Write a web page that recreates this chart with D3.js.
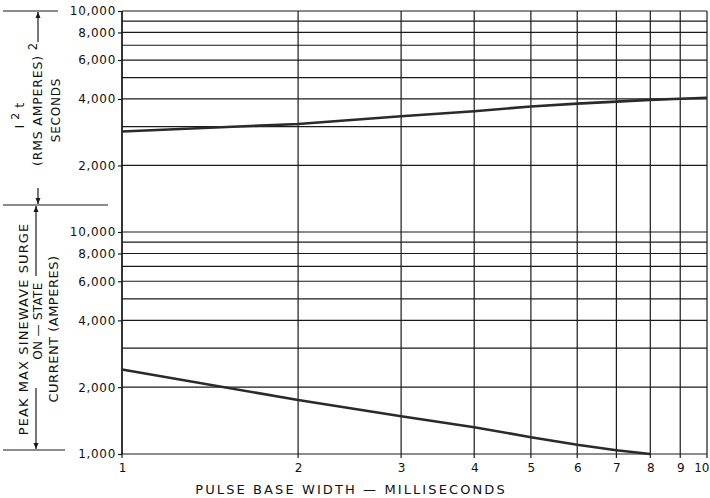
<!DOCTYPE html>
<html><head><meta charset="utf-8">
<script src="https://cdn.jsdelivr.net/npm/d3@7/dist/d3.min.js"></script>
<style>
html,body{margin:0;padding:0;background:#fff;}
svg{display:block;}
text{font-family:"DejaVu Sans",sans-serif;fill:#111;}
</style></head>
<body>
<svg id="c" width="710" height="498"></svg>
<script>
// ---- data ----
const xTicks = [1,2,3,4,5,6,7,8,9,10];
const xTickLabels = ["1","2","3","4","5","6","7","8","9","10"];
const topGrid = [2000,3000,4000,5000,6000,7000,8000,9000,10000];
const topLabels = [2000,4000,6000,8000,10000];
const botGrid = [1000,2000,3000,4000,5000,6000,7000,8000,9000,10000];
const botLabels = [1000,2000,4000,6000,8000,10000];
const i2tWidth = [1,2,3,4,5,6,7,8,9,10];
const i2tValues = [2850,3080,3340,3520,3700,3810,3890,3960,4010,4050];
const surgeWidth = [1,2,3,4,5,6,7,8];
const surgeValues = [2400,1750,1480,1320,1190,1100,1040,1000];
const xTitle = "PULSE BASE WIDTH \u2014  MILLISECONDS";

// ---- layout ----
const L = 122, R = 707, T = 11, MID = 232, B = 454;
const svg = d3.select("#c");
const x = d3.scaleLog().domain([1,10]).range([L,R]);
const yTop = d3.scaleLog().domain([1000,10000]).range([MID,T]);
const yBot = d3.scaleLog().domain([1000,10000]).range([B,MID]);
const fmt = d3.format(",");

const g = svg.append("g");
// vertical grid
g.selectAll("line.vg").data(xTicks).join("line")
  .attr("x1",d=>x(d)).attr("x2",d=>x(d)).attr("y1",T).attr("y2",B+4)
  .attr("stroke","#1a1a1a").attr("stroke-width",1.2);
// horizontal grid
g.selectAll("line.ht").data(topGrid).join("line").attr("class","ht")
  .attr("x1",L).attr("x2",R).attr("y1",d=>yTop(d)).attr("y2",d=>yTop(d))
  .attr("stroke","#1a1a1a").attr("stroke-width",1.2);
g.selectAll("line.hb").data(botGrid).join("line").attr("class","hb")
  .attr("x1",L).attr("x2",R).attr("y1",d=>yBot(d)).attr("y2",d=>yBot(d))
  .attr("stroke","#1a1a1a").attr("stroke-width",1.2);

// y axes
const yAxT = d3.axisLeft(yTop).tickValues(topLabels).tickFormat(fmt).tickSize(4).tickPadding(2);
const yAxB = d3.axisLeft(yBot).tickValues(botLabels).tickFormat(fmt).tickSize(4).tickPadding(2);
function styleAxis(sel){
  sel.select(".domain").remove();
  sel.selectAll(".tick line").attr("stroke","#1a1a1a").attr("stroke-width",1.2);
  sel.selectAll(".tick text").attr("font-family","DejaVu Sans").attr("font-size",12)
     .attr("letter-spacing","0.7").attr("fill","#111");
}
svg.append("g").attr("transform",`translate(${L},0)`).call(yAxT).call(styleAxis);
svg.append("g").attr("transform",`translate(${L},0)`).call(yAxB).call(styleAxis);
// left border
svg.append("line").attr("x1",L).attr("x2",L).attr("y1",T).attr("y2",B).attr("stroke","#1a1a1a").attr("stroke-width",1.4);

// x axis labels
const xAx = d3.axisBottom(x).tickValues(xTicks).tickFormat((d,i)=>xTickLabels[i]).tickSize(0).tickPadding(9);
svg.append("g").attr("transform",`translate(0,${B})`).call(xAx).call(sel=>{
  sel.select(".domain").remove();
  sel.selectAll(".tick text").attr("font-family","DejaVu Sans").attr("font-size",12).attr("fill","#111");
  sel.selectAll(".tick text").filter(d=>d===10).attr("text-anchor","end").attr("dx",2);
});
svg.append("text").attr("x",351).attr("y",494).attr("text-anchor","middle")
  .attr("font-size",13).attr("letter-spacing","2.1").text(xTitle);

// data lines
const lineTop = d3.line().x((d,i)=>x(i2tWidth[i])).y(d=>yTop(d));
const lineBot = d3.line().x((d,i)=>x(surgeWidth[i])).y(d=>yBot(d));
svg.append("path").attr("d",lineTop(i2tValues)).attr("fill","none").attr("stroke","#2a2a2a").attr("stroke-width",2.6);
svg.append("path").attr("d",lineBot(surgeValues)).attr("fill","none").attr("stroke","#2a2a2a").attr("stroke-width",2.6);

// left annotation
const a = svg.append("g").attr("stroke","#1a1a1a").attr("stroke-width",1.2);
const SEP = 205;
a.append("line").attr("x1",3).attr("x2",58).attr("y1",T).attr("y2",T);
a.append("line").attr("x1",3).attr("x2",108).attr("y1",SEP).attr("y2",SEP);
a.append("line").attr("x1",3).attr("x2",65).attr("y1",B-4).attr("y2",B-4);
function arrow(xx,y1,y2){ // arrow from y1 to tip y2
  a.append("line").attr("x1",xx).attr("x2",xx).attr("y1",y1).attr("y2",y2);
  const dir = y2<y1?1:-1;
  a.append("path").attr("d",`M${xx},${y2} L${xx-2.5},${y2+dir*6} L${xx+2.5},${y2+dir*6} Z`).attr("fill","#1a1a1a").attr("stroke","none");
}
arrow(38,42,T+1);
arrow(38,188,SEP-1);
arrow(36,276,SEP+1);
arrow(36,388,B-5);

function vtext(xc,yc,size,ls,str){
  return svg.append("text").attr("transform",`translate(${xc},${yc}) rotate(-90)`)
    .attr("text-anchor","middle").attr("dominant-baseline","central")
    .attr("font-size",size).attr("letter-spacing",ls).text(str);
}
const t1 = svg.append("text").attr("transform",`translate(19,115) rotate(-90)`)
  .attr("text-anchor","middle").attr("dominant-baseline","central").attr("font-size",13).attr("letter-spacing","1");
t1.append("tspan").text("I");
t1.append("tspan").attr("dy",-4).attr("dx",4).attr("font-size",11).text("2");
t1.append("tspan").attr("dy",4).attr("dx",4).text("t");
const t2 = svg.append("text").attr("transform",`translate(37,104) rotate(-90)`)
  .attr("text-anchor","middle").attr("dominant-baseline","central").attr("font-size",12.5).attr("letter-spacing","0.8");
t2.append("tspan").text("(RMS  AMPERES)");
t2.append("tspan").attr("dy",-4).attr("dx",5).attr("font-size",11.5).text("2");
vtext(56,110,12,"0.8","SECONDS");
vtext(23,329,13,"1.1","PEAK MAX SINEWAVE  SURGE");
vtext(38,321,12,"0.3","ON \u2014 STATE");
vtext(53,329,13,"0.5","CURRENT (AMPERES)");
</script>
</body></html>
